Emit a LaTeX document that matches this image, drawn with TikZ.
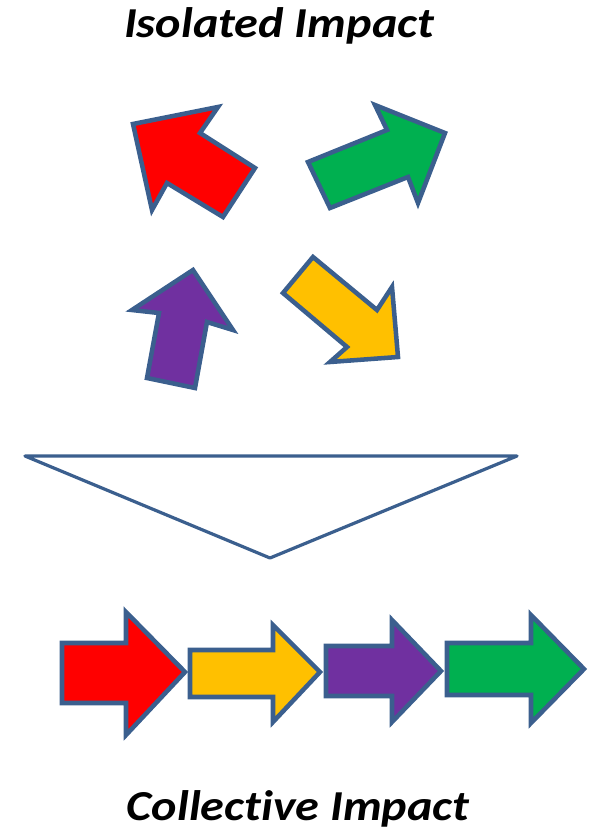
\documentclass[tikz,border=0pt]{standalone}
\usepackage{fontspec}
\setmainfont[Ligatures=NoCommon]{Carlito}
\definecolor{outl}{HTML}{3B5F8E}
\definecolor{ared}{HTML}{FF0000}
\definecolor{agreen}{HTML}{00B050}
\definecolor{apurple}{HTML}{7030A0}
\definecolor{ayellow}{HTML}{FFC000}
\begin{document}
\begin{tikzpicture}[x=0.75pt,y=-0.75pt,
  arrowshape/.style={draw=outl,line width=3.4pt,line join=miter,miter limit=10},
  title/.style={font=\fontsize{32}{36}\selectfont\bfseries\itshape,inner sep=0pt,anchor=base,xscale=1.13}]
\useasboundingbox (0,0) rectangle (589,832);
% titles
\node[title] (top) at (279,37) {Isolated Impact};
\node[title] (bot) at (298,820) {Collective Impact};
% scattered arrows
\filldraw[arrowshape,fill=ared] (133,124) -- (218,107) -- (200,133) -- (255,168) -- (223,217) -- (167,183) -- (152,210) -- cycle;
\filldraw[arrowshape,fill=agreen] (445,133) -- (418,203) -- (408,177) -- (330,208) -- (308,162) -- (387,130) -- (375,105) -- cycle;
\filldraw[arrowshape,fill=apurple] (193,270) -- (233,330) -- (207,322) -- (195,388) -- (147,378) -- (159,313) -- (132,310) -- cycle;
\filldraw[arrowshape,fill=ayellow] (398,357) -- (330,362) -- (347,347) -- (283,293) -- (313,257) -- (377,310) -- (392,287) -- cycle;
% funnel triangle
\draw[draw=outl,line width=2.4pt,line join=round,line cap=round,fill=white] (25,456) -- (517,456) -- (270,558) -- cycle;
% row of arrows
\filldraw[arrowshape,fill=ared] (62,643) -- (126,643) -- (126,612) -- (185,672) -- (126,735) -- (126,703) -- (62,703) -- cycle;
\filldraw[arrowshape,fill=ayellow] (190,650) -- (273,650) -- (273,625) -- (320,672) -- (273,722) -- (273,697) -- (190,697) -- cycle;
\filldraw[arrowshape,fill=apurple] (326,646) -- (392,646) -- (392,620) -- (441,671) -- (392,722) -- (392,696) -- (326,696) -- cycle;
\filldraw[arrowshape,fill=agreen] (447,643) -- (531,643) -- (531,615) -- (584,669) -- (531,723) -- (531,695) -- (447,695) -- cycle;
\end{tikzpicture}
\end{document}
